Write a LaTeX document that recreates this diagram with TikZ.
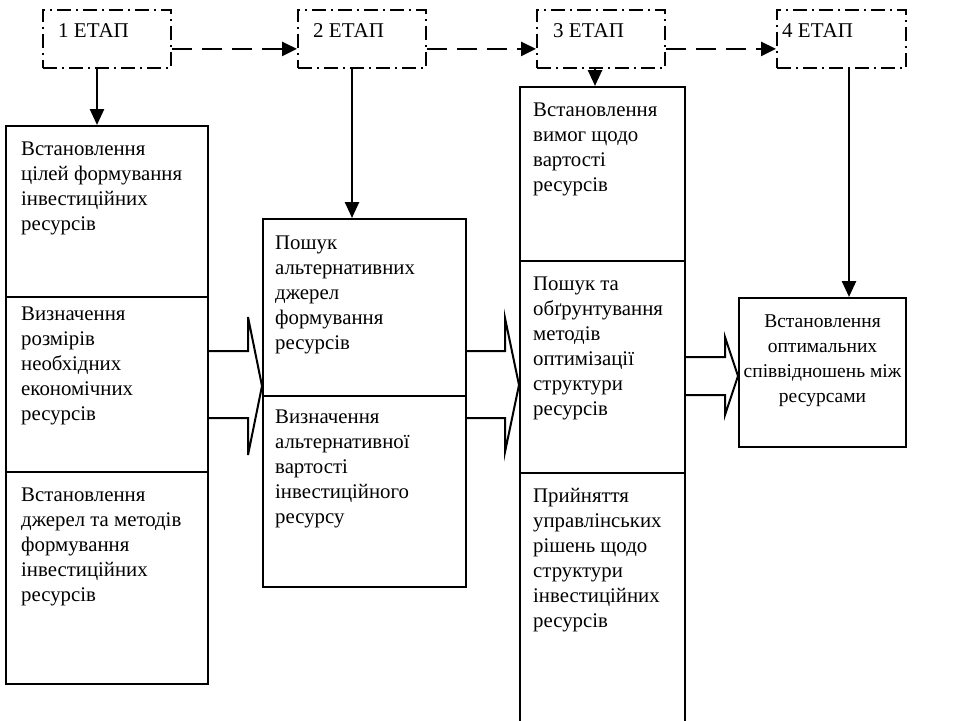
\documentclass[tikz,border=0pt]{standalone}
\usepackage{fontspec}
\setmainfont{Liberation Serif}
\usetikzlibrary{arrows.meta}
\begin{document}
\begin{tikzpicture}[x=1pt,y=-1pt,
  box/.style={draw, line width=2pt, inner sep=0pt, anchor=north west},
  stagebox/.style={draw, line width=1.8pt, dash pattern=on 14pt off 5pt on 2pt off 5pt,
    inner sep=0pt, anchor=north west, minimum width=128pt, minimum height=58pt},
  txt/.style={anchor=north west, align=left, inner sep=0pt, font=\fontsize{20.8}{25}\selectfont},
  stxt/.style={anchor=base west, inner sep=0pt, font=\fontsize{21}{25}\selectfont},
  dasharrow/.style={line width=2.5pt, dash pattern=on 20pt off 10pt, -{Triangle[length=15pt,width=14pt]}},
  downarrow/.style={line width=2.5pt, -{Triangle[length=16pt,width=14pt]}},
  blockarrow/.style={line width=2pt, line join=miter}
]
\useasboundingbox (0,0) rectangle (965,720);

% stage boxes
\node[stagebox] (s1) at (42,9) {};
\node[stagebox] (s2) at (297,9) {};
\node[stagebox] (s3) at (536,9) {};
\node[stagebox, minimum width=129pt] (s4) at (776,9) {};
\node[stxt] (t1) at (58,37) {1 ЕТАП};
\node[stxt] (t2) at (313,37) {2 ЕТАП};
\node[stxt] (t3) at (553,37) {3 ЕТАП};
\node[stxt] (t4) at (782,37) {4 ЕТАП};

% column 1
\node[box, minimum width=202pt, minimum height=171pt] (c1a) at (5,125) {};
\node[box, minimum width=202pt, minimum height=175pt] (c1b) at (5,296) {};
\node[box, minimum width=202pt, minimum height=212pt] (c1c) at (5,471) {};
% column 2
\node[box, minimum width=203pt, minimum height=177pt] (c2a) at (262,218) {};
\node[box, minimum width=203pt, minimum height=191pt] (c2b) at (262,395) {};
% column 3
\node[box, minimum width=165pt, minimum height=174pt] (c3a) at (519,86) {};
\node[box, minimum width=165pt, minimum height=212pt] (c3b) at (519,260) {};
\node[box, minimum width=165pt, minimum height=260pt] (c3c) at (519,472) {};
% column 4
\node[box, minimum width=167pt, minimum height=149pt] (c4) at (738,297) {};

% texts
\node[txt] (x1a) at (21,142) {Встановлення\\цілей формування\\інвестиційних\\ресурсів};
\node[txt] (x1b) at (21,307) {Визначення\\розмірів\\необхідних\\економічних\\ресурсів};
\node[txt] (x1c) at (21,488) {Встановлення\\джерел та методів\\формування\\інвестиційних\\ресурсів};
\node[txt] (x2a) at (275,236) {Пошук\\альтернативних\\джерел\\формування\\ресурсів};
\node[txt] (x2b) at (275,410) {Визначення\\альтернативної\\вартості\\інвестиційного\\ресурсу};
\node[txt] (x3a) at (533,103) {Встановлення\\вимог щодо\\вартості\\ресурсів};
\node[txt] (x3b) at (533,277) {Пошук та\\обґрунтування\\методів\\оптимізації\\структури\\ресурсів};
\node[txt] (x3c) at (533,488) {Прийняття\\управлінських\\рішень щодо\\структури\\інвестиційних\\ресурсів};
\node[txt, anchor=center, align=center, font=\fontsize{19.5}{25}\selectfont] (x4) at ([yshift=12pt]c4.center) {Встановлення\\оптимальних\\співвідношень між\\ресурсами};

% dashed connectors between stages
\draw[dasharrow] ([yshift=-10pt]s1.east) -- ([yshift=-10pt]s2.west);
\draw[dasharrow] ([yshift=-10pt]s2.east) -- ([yshift=-10pt]s3.west);
\draw[dasharrow] ([yshift=-10pt]s3.east) -- ([yshift=-10pt]s4.west);

% down arrows
\draw[downarrow] (s1.south -| 97,0) -- (c1a.north -| 97,0);
\draw[downarrow] (s2.south -| 352,0) -- (c2a.north -| 352,0);
\draw[downarrow] (s3.south -| 595,0) -- (c3a.north -| 595,0);
\draw[downarrow] (s4.south -| 849,0) -- (c4.north -| 849,0);

% block arrows
\draw[blockarrow] (c1b.east |- 0,351) -- (248,351) -- (248,317) -- (c2a.west |- 0,386)
  -- (248,455) -- (248,418) -- (c1b.east |- 0,418);
\draw[blockarrow] (c2a.east |- 0,351) -- (505,351) -- (505,318) -- (c3b.west |- 0,385)
  -- (505,452) -- (505,418) -- (c2b.east |- 0,418);
\draw[blockarrow] (c3b.east |- 0,357) -- (725,357) -- (725,337) -- (c4.west |- 0,376)
  -- (725,415) -- (725,395) -- (c3b.east |- 0,395);
\end{tikzpicture}
\end{document}
